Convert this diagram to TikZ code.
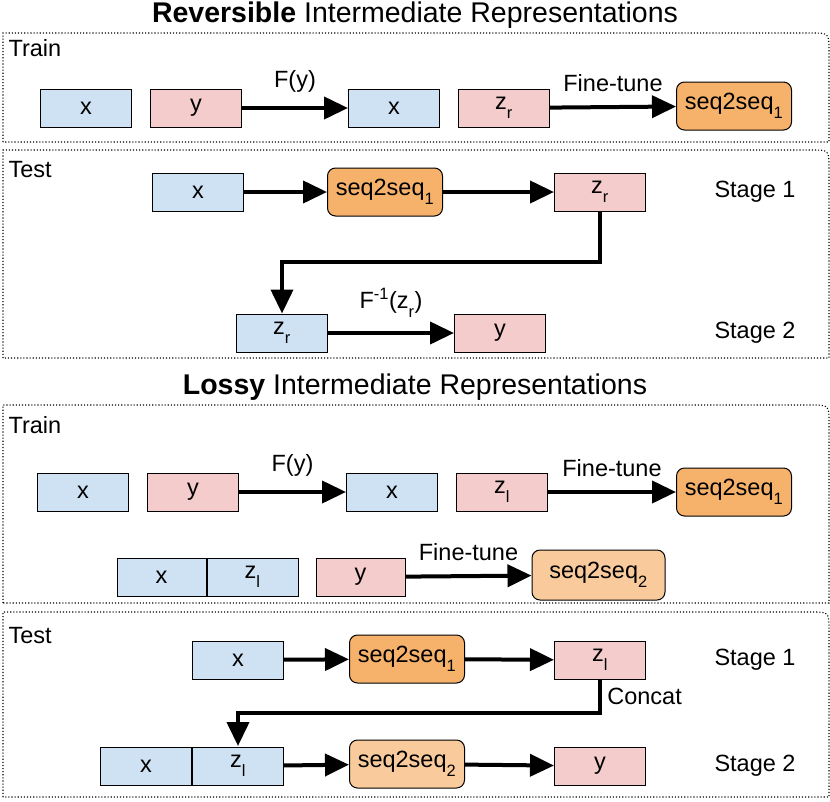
\documentclass[tikz,border=0pt]{standalone}
\usepackage{fontspec}
\setmainfont{Liberation Sans}
\usetikzlibrary{arrows.meta,positioning}
\definecolor{boxblue}{HTML}{CFE2F3}
\definecolor{boxpink}{HTML}{F4CCCC}
\definecolor{boxorange}{HTML}{F6B26B}
\definecolor{boxpeach}{HTML}{F9CB9C}
\newcommand{\lowsub}[1]{\raisebox{-0.45ex}{\textsubscript{#1}}}
\tikzset{
  blk/.style={draw, line width=1pt, minimum width=91pt, minimum height=38pt, inner sep=0pt},
  inbox/.style={blk, fill=boxblue},
  outbox/.style={blk, fill=boxpink},
  model/.style={blk, rounded corners=8pt, minimum width=115pt, minimum height=48pt},
  flow/.style={line width=4pt, -{Triangle[length=24pt,width=22pt]}},
  frame/.style={dotted, line width=1.1pt},
  heading/.style={font=\fontsize{28.5}{32}\selectfont},
}
\begin{document}
\begin{tikzpicture}[x=1pt, y=-1pt, font=\fontsize{23.5}{28}\selectfont]
\useasboundingbox (0,0) rectangle (830,801);
% --- reversible ---
\node[heading] (titleR) at (415,15) {\textbf{Reversible} Intermediate Representations};
\draw[frame] (3,142) -- (3,33) -- (811,33) .. controls (829,33) .. (829,51) -- (829,142) -- cycle;
\node[anchor=west] (trainR) at (5,48) {Train};
\node[inbox]  (rx1) at (86,108) {x};
\node[outbox] (ry1) at (196,108) {y};
\node[inbox]  (rx2) at (394,108) {x};
\node[outbox] (rz1) at (504,108) {z\lowsub{r}};
\node[model, fill=boxorange] (rm1) at (734,106) {seq2seq\lowsub{1}};
\draw[flow] (ry1) -- node[above=10pt] {F(y)} (rx2);
\draw[flow] (rz1) -- node[above=10pt] {Fine-tune} (rm1);
\draw[frame] (3,358) -- (3,150) -- (811,150) .. controls (829,150) .. (829,168) -- (829,358) -- cycle;
\node[anchor=west] (testR) at (5,170) {Test};
\node[inbox]  (rx3) at (198,192) {x};
\node[model, fill=boxorange] (rm2) at (385,192) {seq2seq\lowsub{1}};
\node[outbox] (rz2) at (600,192) {z\lowsub{r}};
\node[inbox]  (rz3) at (282,333) {z\lowsub{r}};
\node[outbox] (ry2) at (500,333) {y};
\node (stageR1) at (755,192) {Stage 1};
\node (stageR2) at (755,333) {Stage 2};
\draw[flow] (rx3) -- (rm2);
\draw[flow] (rm2) -- (rz2);
\draw[flow] (rz2.south) |- (282,262) -- (rz3.north);
\draw[flow] (rz3) -- node[above=10pt] {F\textsuperscript{-1}(z\lowsub{r})} (ry2);
% --- lossy ---
\node[heading] (titleL) at (415,387) {\textbf{Lossy} Intermediate Representations};
\draw[frame] (3,603) -- (3,405) -- (811,405) .. controls (829,405) .. (829,423) -- (829,603) -- cycle;
\node[anchor=west] (trainL) at (5,425) {Train};
\node[inbox]  (lx1) at (83,492) {x};
\node[outbox] (ly1) at (193,492) {y};
\node[inbox]  (lx2) at (392,492) {x};
\node[outbox] (lz1) at (502,492) {z\lowsub{l}};
\node[model, fill=boxorange] (lm1) at (734,492) {seq2seq\lowsub{1}};
\draw[flow] (ly1) -- node[above=10pt] {F(y)} (lx2);
\draw[flow] (lz1) -- node[above=10pt] {Fine-tune} (lm1);
\node[inbox, minimum width=89pt]  (lx3) at (161.5,577) {x};
\node[inbox, right=0pt of lx3] (lz2) {z\lowsub{l}};
\node[outbox, minimum width=89pt] (ly2) at (360.5,577) {y};
\node[model, fill=boxpeach, minimum width=133pt, minimum height=50pt] (lm2) at (598.5,575) {seq2seq\lowsub{2}};
\draw[flow] (ly2) -- node[above=10pt] {Fine-tune} (lm2);
\draw[frame] (3,797) -- (3,612) -- (811,612) .. controls (829,612) .. (829,630) -- (829,797) -- cycle;
\node[anchor=west] (testL) at (5,636) {Test};
\node[inbox]  (lx4) at (238,660) {x};
\node[model, fill=boxorange] (lm3) at (407,659) {seq2seq\lowsub{1}};
\node[outbox] (lz3) at (600,660) {z\lowsub{l}};
\node (stageL1) at (755,660) {Stage 1};
\node[inbox]  (lx5) at (146,766) {x};
\node[inbox, right=0pt of lx5] (lz4) {z\lowsub{l}};
\node[model, fill=boxpeach] (lm4) at (407,764) {seq2seq\lowsub{2}};
\node[outbox] (ly3) at (600,766) {y};
\node (stageL2) at (755,766) {Stage 2};
\draw[flow] (lx4) -- (lm3);
\draw[flow] (lm3) -- (lz3);
\draw[flow] (lz3.south) |- node[pos=0.25, right=2pt] {Concat} (238,713) -- (238,746);
\draw[flow] (lz4) -- (lm4);
\draw[flow] (lm4) -- (ly3);
\end{tikzpicture}
\end{document}
